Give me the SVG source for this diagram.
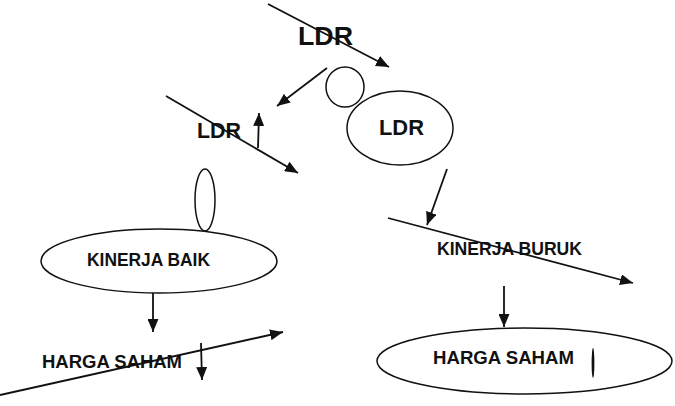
<svg xmlns="http://www.w3.org/2000/svg" width="675" height="406" viewBox="0 0 675 406">
<style>
.t{font-family:"Liberation Sans",Arial,sans-serif;font-weight:bold;fill:#111}
.s{fill:none;stroke:#111;stroke-width:1.5}
.c{fill:none;stroke:#111;stroke-width:1.8}
</style>
<defs>
<marker id="ah" viewBox="0 0 13 11" refX="13" refY="5.5" markerWidth="13" markerHeight="11" markerUnits="userSpaceOnUse" orient="auto">
<path d="M0,0 L13,5.5 L0,11 Z" fill="#111"/>
</marker>
</defs>
<rect width="675" height="406" fill="#fff"/>
<g id="ldr-top"><text class="t" x="298" y="45" font-size="26" textLength="55" lengthAdjust="spacingAndGlyphs">LDR</text></g>
<g id="circle-small"><ellipse class="s" cx="345" cy="87" rx="19" ry="20"/></g>
<g id="ldr-right"><ellipse class="s" cx="400" cy="128" rx="53" ry="37"/><text class="t" x="379" y="135" font-size="22" textLength="45" lengthAdjust="spacingAndGlyphs">LDR</text></g>
<g id="ldr-left"><text class="t" x="197" y="138" font-size="22" textLength="44" lengthAdjust="spacingAndGlyphs">LDR</text></g>
<g id="oval-vertical"><ellipse class="s" cx="205" cy="200" rx="10" ry="31"/></g>
<g id="kinerja-baik"><ellipse class="s" cx="159" cy="261" rx="118" ry="32"/><text class="t" x="87" y="266" font-size="18" textLength="123" lengthAdjust="spacingAndGlyphs">KINERJA BAIK</text></g>
<g id="kinerja-buruk"><text class="t" x="437" y="255" font-size="18" textLength="145" lengthAdjust="spacingAndGlyphs">KINERJA BURUK</text></g>
<g id="harga-saham-left"><text class="t" x="42" y="368" font-size="18" textLength="140" lengthAdjust="spacingAndGlyphs">HARGA SAHAM</text></g>
<g id="harga-saham-right"><ellipse class="s" cx="524.5" cy="361" rx="147.5" ry="33"/><text class="t" x="433" y="364" font-size="18" textLength="141" lengthAdjust="spacingAndGlyphs">HARGA SAHAM</text><ellipse cx="593" cy="363" rx="1.4" ry="15" fill="#111"/></g>
<g id="connectors">
<line class="c" x1="268" y1="4" x2="389" y2="67" marker-end="url(#ah)"/>
<line class="c" x1="327" y1="68" x2="277" y2="106" marker-end="url(#ah)"/>
<line class="c" x1="166" y1="96" x2="298" y2="173" marker-end="url(#ah)"/>
<line class="c" x1="258" y1="148" x2="259" y2="113" marker-end="url(#ah)"/>
<line class="c" x1="447" y1="169" x2="427" y2="225" marker-end="url(#ah)"/>
<line class="c" x1="388" y1="218" x2="633" y2="283" marker-end="url(#ah)"/>
<line class="c" x1="153" y1="293" x2="153" y2="332" marker-end="url(#ah)"/>
<line class="c" x1="0" y1="395" x2="283" y2="332" marker-end="url(#ah)"/>
<line class="c" x1="201" y1="343" x2="202" y2="380" marker-end="url(#ah)"/>
<line class="c" x1="504" y1="286" x2="504" y2="327" marker-end="url(#ah)"/>
</g>
</svg>
